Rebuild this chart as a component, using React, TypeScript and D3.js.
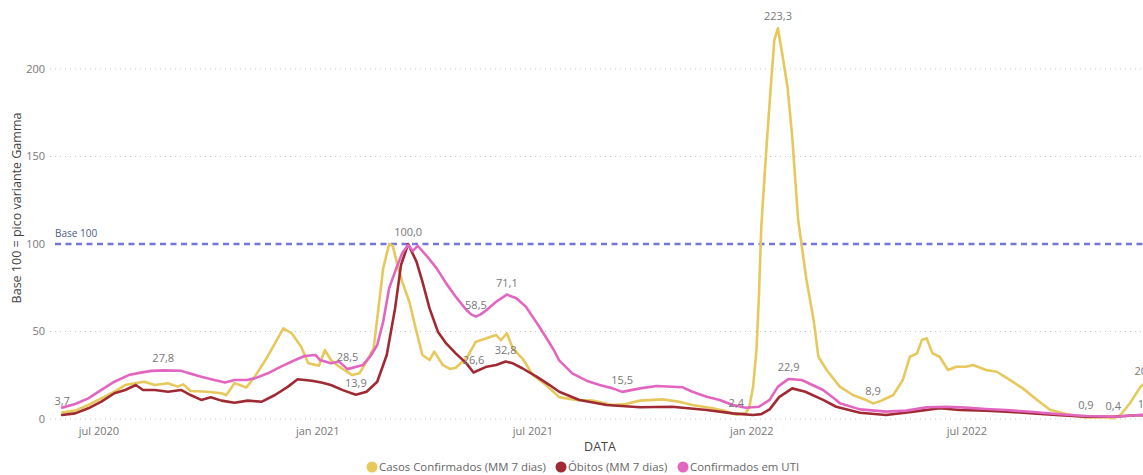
import React from 'react';
import * as d3 from 'd3';

// ---------- DATA ----------
const casosDates = [
  "2020-05-31","2020-06-11","2020-06-22","2020-07-03","2020-07-14","2020-07-23","2020-07-31","2020-08-08","2020-08-17","2020-08-28",
  "2020-09-05","2020-09-10","2020-09-16","2020-09-30","2020-10-12","2020-10-16","2020-10-23","2020-11-02","2020-11-09","2020-11-18",
  "2020-11-26","2020-12-03","2020-12-10","2020-12-18","2020-12-24","2021-01-02","2021-01-07","2021-01-12","2021-01-19","2021-01-30",
  "2021-02-05","2021-02-11","2021-02-17","2021-02-21","2021-02-25","2021-03-02","2021-03-05","2021-03-09","2021-03-13","2021-03-19",
  "2021-03-25","2021-03-30","2021-04-05","2021-04-09","2021-04-16","2021-04-22","2021-04-27","2021-05-06","2021-05-14","2021-05-23",
  "2021-05-31","2021-06-04","2021-06-09","2021-06-14","2021-06-22","2021-07-01","2021-07-12","2021-07-23","2021-08-06","2021-08-20",
  "2021-09-06","2021-09-17","2021-09-29","2021-10-18","2021-11-01","2021-11-12","2021-11-29","2021-12-10","2021-12-19","2021-12-27",
  "2021-12-30","2022-01-02","2022-01-05","2022-01-07","2022-01-09","2022-01-13","2022-01-17","2022-01-20","2022-01-23","2022-01-27",
  "2022-01-31","2022-02-04","2022-02-09","2022-02-16","2022-02-22","2022-02-26","2022-03-05","2022-03-16","2022-03-27","2022-04-07",
  "2022-04-13","2022-04-20","2022-04-30","2022-05-08","2022-05-14","2022-05-20","2022-05-24","2022-05-28","2022-06-02","2022-06-08",
  "2022-06-15","2022-06-22","2022-06-30","2022-07-06","2022-07-17","2022-07-26","2022-08-06","2022-08-17","2022-08-29","2022-09-09",
  "2022-09-23","2022-10-09","2022-10-26","2022-11-01","2022-11-07","2022-11-15","2022-11-24","2022-11-28"
];
const casosValues = [
  3.7,4.8,8.0,11.8,15.6,19.4,20.4,21.3,19.4,20.4,
  18.5,19.8,16.0,15.6,14.7,13.6,20.5,18.0,24.2,33.7,
  43.2,51.8,49.0,41.3,31.8,30.5,39.4,33.7,29.9,25.1,
  26.1,32.8,40.4,63.2,86.1,100.0,99.0,88.0,78.5,67.0,
  49.9,36.6,33.7,38.5,30.9,28.6,29.3,34.7,44.2,46.1,
  48.0,45.0,49.0,40.4,34.7,25.1,19.4,12.5,10.9,10.5,
  8.0,8.6,10.5,11.2,9.9,8.0,6.1,4.5,2.4,3.5,
  7.0,18.0,40.0,70.0,110.0,151.8,189.9,216.6,223.3,207.0,
  189.9,161.3,113.7,79.4,56.6,35.6,28.0,18.5,13.7,10.9,
  8.9,10.5,13.7,22.3,35.6,37.5,45.1,46.1,37.5,35.6,
  28.0,29.9,29.9,30.9,28.0,27.0,22.3,17.5,10.9,5.1,
  2.7,0.9,1.0,0.4,2.3,9.0,18.5,20.4
];

const obitosDates = [
  "2020-05-31","2020-06-11","2020-06-22","2020-07-03","2020-07-14","2020-07-23","2020-08-01","2020-08-07","2020-08-17","2020-08-28",
  "2020-09-08","2020-09-16","2020-09-25","2020-10-03","2020-10-12","2020-10-23","2020-11-03","2020-11-15","2020-11-26","2020-12-07",
  "2020-12-15","2020-12-27","2021-01-04","2021-01-12","2021-01-22","2021-02-02","2021-02-11","2021-02-20","2021-02-28","2021-03-07",
  "2021-03-12","2021-03-18","2021-03-25","2021-03-30","2021-04-05","2021-04-12","2021-04-19","2021-04-27","2021-05-06","2021-05-12",
  "2021-05-23","2021-05-31","2021-06-08","2021-06-14","2021-06-22","2021-07-04","2021-07-15","2021-07-23","2021-08-09","2021-09-01",
  "2021-09-29","2021-10-26","2021-11-24","2021-12-16","2022-01-02","2022-01-09","2022-01-16","2022-01-24","2022-02-04","2022-02-15",
  "2022-03-02","2022-03-13","2022-04-02","2022-04-24","2022-05-17","2022-06-08","2022-06-25","2022-07-17","2022-08-03","2022-08-26",
  "2022-09-17","2022-10-09","2022-11-01","2022-11-24","2022-11-28"
];
const obitosValues = [
  2.3,3.2,6.1,9.9,14.7,16.6,19.4,16.6,16.6,15.6,
  16.6,13.7,10.9,12.4,10.5,9.3,10.5,9.9,13.7,18.5,
  22.7,21.9,20.8,19.4,16.5,13.9,15.6,21.3,36.6,63.2,
  88.0,100.0,89.9,78.5,63.2,49.9,43.2,37.5,31.8,26.6,
  29.9,30.9,32.8,31.8,29.0,24.2,19.4,15.6,10.9,8.0,
  6.7,7.0,5.1,3.2,2.3,2.8,5.5,12.5,17.5,15.6,
  10.9,7.0,3.6,2.3,4.2,6.1,5.1,4.8,4.2,3.2,
  2.1,1.3,1.3,2.3,1.8
];

const utiDates = [
  "2020-05-31","2020-06-11","2020-06-22","2020-07-03","2020-07-14","2020-07-26","2020-08-05","2020-08-14","2020-08-24","2020-09-08",
  "2020-09-13","2020-09-25","2020-10-06","2020-10-15","2020-10-23","2020-11-02","2020-11-09","2020-11-20","2020-12-01","2020-12-13",
  "2020-12-21","2020-12-30","2021-01-03","2021-01-12","2021-01-19","2021-01-26","2021-02-08","2021-02-14","2021-02-20","2021-02-25",
  "2021-03-02","2021-03-08","2021-03-13","2021-03-18","2021-03-22","2021-03-26","2021-04-02","2021-04-11","2021-04-19","2021-04-27",
  "2021-05-06","2021-05-10","2021-05-14","2021-05-18","2021-05-23","2021-05-31","2021-06-09","2021-06-17","2021-06-25","2021-07-07",
  "2021-07-18","2021-07-23","2021-08-03","2021-08-15","2021-08-26","2021-09-06","2021-09-14","2021-09-29","2021-10-13","2021-11-04",
  "2021-11-12","2021-11-24","2021-12-05","2021-12-16","2021-12-27","2022-01-07","2022-01-16","2022-01-23","2022-02-01","2022-02-12",
  "2022-03-02","2022-03-13","2022-03-16","2022-04-02","2022-04-24","2022-05-11","2022-05-28","2022-06-14","2022-06-30","2022-07-17",
  "2022-08-03","2022-08-26","2022-09-17","2022-10-09","2022-11-01","2022-11-24","2022-11-28"
];
const utiValues = [
  6.5,8.6,11.8,16.6,21.3,25.1,26.5,27.5,27.8,27.6,
  26.5,24.2,22.3,20.8,22.3,22.3,23.2,26.1,29.9,33.7,
  36.0,36.6,33.7,31.8,32.8,28.5,30.9,35.6,42.3,55.6,
  74.7,86.1,94.7,99.4,96.0,99.0,93.7,86.1,77.5,69.9,
  62.3,59.8,58.5,59.8,62.3,67.0,71.1,69.0,64.2,52.0,
  40.0,33.5,26.1,21.9,19.4,17.5,15.5,17.5,18.9,18.1,
  15.6,12.7,10.9,8.0,6.4,7.0,10.9,18.5,22.9,22.3,
  16.6,10.9,9.0,5.5,4.2,4.8,6.7,7.0,6.5,5.7,
  5.1,4.0,2.7,1.7,1.3,2.3,2.6
];

const seriesNames = ["Casos Confirmados (MM 7 dias)", "Óbitos (MM 7 dias)", "Confirmados em UTI"];
const seriesColors = ["#E6C85C", "#A02A33", "#E266C0"];

const xTickDates = ["2020-07-01", "2021-01-01", "2021-07-01", "2022-01-01", "2022-07-01"];
const xTickLabels = ["jul 2020", "jan 2021", "jul 2021", "jan 2022", "jul 2022"];
const yTicks = [0, 50, 100, 150, 200];

// data labels: [series index, date]
const labelSeries = [0, 2, 2, 1, 1, 2, 2, 1, 1, 2, 0, 0, 2, 0, 0, 0, 0, 1];
const labelDates = [
  "2020-05-31", "2020-08-24", "2021-01-26", "2021-02-02", "2021-03-18", "2021-05-14", "2021-06-09",
  "2021-05-12", "2021-06-08", "2021-09-14", "2021-12-19", "2022-01-23", "2022-02-01", "2022-04-13",
  "2022-10-09", "2022-11-01", "2022-11-28", "2022-11-28"
];

const baseValue = 100;

// ---------- CHART ----------
const FONT = "'Segoe UI', 'Open Sans', 'Noto Sans', sans-serif";
const parse = d3.timeParse('%Y-%m-%d');

export default function App() {
  const W = 1143, H = 475;
  const x = d3.scaleTime()
    .domain([parse('2020-07-01') as Date, parse('2022-07-01') as Date])
    .range([99, 967]);
  const y = d3.scaleLinear().domain([0, 200]).range([419, 69]);

  const series = [
    { dates: casosDates, values: casosValues },
    { dates: obitosDates, values: obitosValues },
    { dates: utiDates, values: utiValues },
  ].map(s => s.dates.map((d, i) => [parse(d) as Date, s.values[i]] as [Date, number]));

  const line = d3.line<[Date, number]>()
    .x(d => x(d[0]))
    .y(d => y(d[1]))
    .curve(d3.curveLinear);

  const fmt = (v: number) => d3.format('.1f')(v).replace('.', ',');

  const gridLeft = 50;

  const legendX = [372, 561, 683];

  return (
    <svg width={W} height={H} style={{ position: 'absolute', left: 0, top: 0, background: '#fff' }}
      fontFamily={FONT}>
      {/* gridlines */}
      {yTicks.filter(t => t !== baseValue).map(t => (
        <line key={'g' + t} x1={gridLeft} x2={W} y1={y(t)} y2={y(t)}
          stroke="#c8c8c8" strokeWidth={1} strokeDasharray="1 4" />
      ))}
      {/* y tick labels */}
      {yTicks.map(t => (
        <text key={'yt' + t} x={45} y={y(t)} dy="0.35em" textAnchor="end" fontSize={11} fill="#777">{t}</text>
      ))}
      {/* y title */}
      <text transform="translate(17,208) rotate(-90)" textAnchor="middle" dy="0.35em" fontSize={12.5} fill="#444">
        Base 100 = pico variante Gamma
      </text>
      {/* x tick labels */}
      {xTickDates.map((d, i) => (
        <text key={'xt' + i} x={x(parse(d) as Date)} y={431} dy="0.35em" textAnchor="middle" fontSize={11} fill="#777">
          {xTickLabels[i]}
        </text>
      ))}
      <text x={600} y={447} dy="0.35em" textAnchor="middle" fontSize={12.5} fill="#444">DATA</text>

      {/* base 100 line */}
      <line x1={55} x2={W} y1={y(baseValue)} y2={y(baseValue)} stroke="#7378D8" strokeWidth={2.5} strokeDasharray="6 4.5" />
      <text x={55} y={y(baseValue) - 7} fontSize={10} fill="#4D5C8C">Base 100</text>

      {/* lines */}
      {series.map((s, i) => (
        <path key={'l' + i} d={line(s) || ''} fill="none" stroke={seriesColors[i]} strokeWidth={2.6}
          strokeLinejoin="round" strokeLinecap="round" />
      ))}

      {/* data labels */}
      {labelDates.map((d, i) => {
        const si = labelSeries[i];
        const s = series[si];
        const pt = s.find(p => d3.timeFormat('%Y-%m-%d')(p[0]) === d);
        if (!pt) return null;
        return (
          <text key={'dl' + i} x={x(pt[0])} y={y(pt[1]) - 8} textAnchor="middle" fontSize={11} fill="#777">
            {fmt(pt[1])}
          </text>
        );
      })}

      {/* legend */}
      {seriesNames.map((n, i) => (
        <g key={'lg' + i}>
          <circle cx={legendX[i]} cy={467} r={5.5} fill={seriesColors[i]} />
          <text x={legendX[i] + 7} y={467} dy="0.35em" fontSize={11.4} fill="#666">{n}</text>
        </g>
      ))}
    </svg>
  );
}
